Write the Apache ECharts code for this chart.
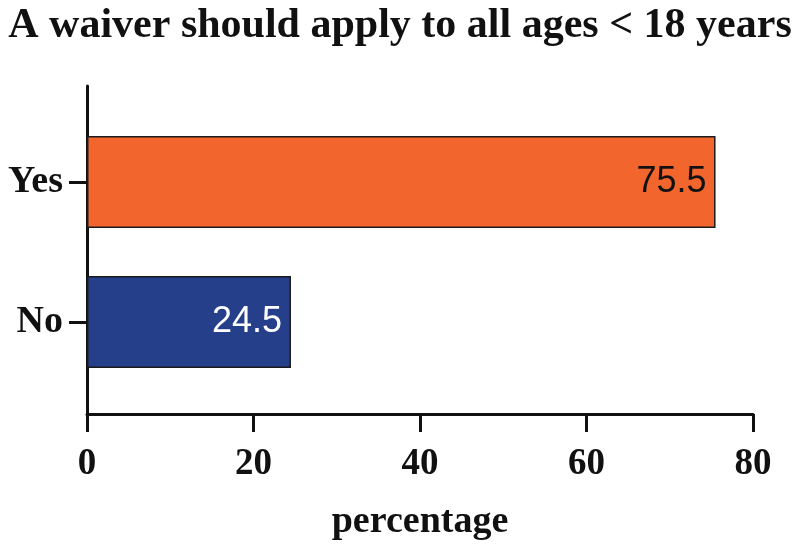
<!DOCTYPE html>
<html>
<head>
    <meta charset="UTF-8">
    <title>A waiver should apply to all ages &lt; 18 years</title>
    <script type="text/javascript" src="https://cdn.jsdelivr.net/npm/echarts@6/dist/echarts.min.js"></script>
</head>
<body style="margin: 0;overflow: hidden;background: #fff;width: 800px;height: 544px;">
<div id="chart" style="width: 800px;height: 544px"></div>
<script type="text/javascript">
    var categories = ['No', 'Yes'];
    var values = [24.5, 75.5];
    var barColors = ['#263f8a', '#f2662d'];
    var labelColors = ['#ffffff', '#111111'];
    var xTicks = [0, 20, 40, 60, 80];

    var serif = '"Liberation Serif", "Times New Roman", serif';
    var sans = '"Liberation Sans", Arial, sans-serif';

    var chart = echarts.init(document.getElementById('chart'));
    var option = {
        backgroundColor: '#fff',
        animation: false,
        title: {
            text: 'A waiver should apply to all ages < 18 years',
            left: 'center',
            top: 0,
            textStyle: {fontFamily: serif, fontWeight: 'bold', fontSize: 42, color: '#111'}
        },
        grid: [
            // bars
            {left: 87, right: 47, top: 112, height: 280, outerBoundsMode: 'none'},
            // frame for the long axis lines
            {left: 87, right: 47, top: 86, height: 328, outerBoundsMode: 'none'}
        ],
        xAxis: [{
            gridIndex: 0, type: 'value', min: xTicks[0], max: xTicks[xTicks.length - 1], interval: 20,
            show: false
        }, {
            gridIndex: 1, type: 'value', min: xTicks[0], max: xTicks[xTicks.length - 1], interval: 20,
            name: 'percentage', nameLocation: 'middle', nameGap: 89,
            nameTextStyle: {fontFamily: serif, fontWeight: 'bold', fontSize: 38, color: '#111'},
            axisLine: {show: true, lineStyle: {color: '#111', width: 3}},
            axisTick: {show: true, length: 18, lineStyle: {color: '#111', width: 3}},
            axisLabel: {fontFamily: serif, fontWeight: 'bold', fontSize: 37, color: '#111', margin: 32},
            splitLine: {show: false}
        }],
        yAxis: [{
            gridIndex: 0, type: 'category', data: categories,
            axisLine: {show: false},
            axisTick: {show: true, alignWithLabel: true, length: 18, lineStyle: {color: '#111', width: 3}},
            axisLabel: {fontFamily: serif, fontWeight: 'bold', fontSize: 38, color: '#111', margin: 24}
        }, {
            gridIndex: 1, type: 'category', data: categories,
            axisLine: {show: true, lineStyle: {color: '#111', width: 3}},
            axisTick: {show: false},
            axisLabel: {show: false}
        }],
        series: [{
            type: 'bar',
            xAxisIndex: 0,
            yAxisIndex: 0,
            barWidth: 92,
            data: values.map(function (v, i) {
                return {
                    value: v,
                    itemStyle: {color: barColors[i], borderColor: '#1a1a1a', borderWidth: 1.5},
                    label: {color: labelColors[i]}
                };
            }),
            label: {
                show: true,
                position: 'insideRight',
                distance: 9,
                fontFamily: sans,
                fontSize: 36
            }
        }]
    };
    chart.setOption(option);
</script>
</body>
</html>
